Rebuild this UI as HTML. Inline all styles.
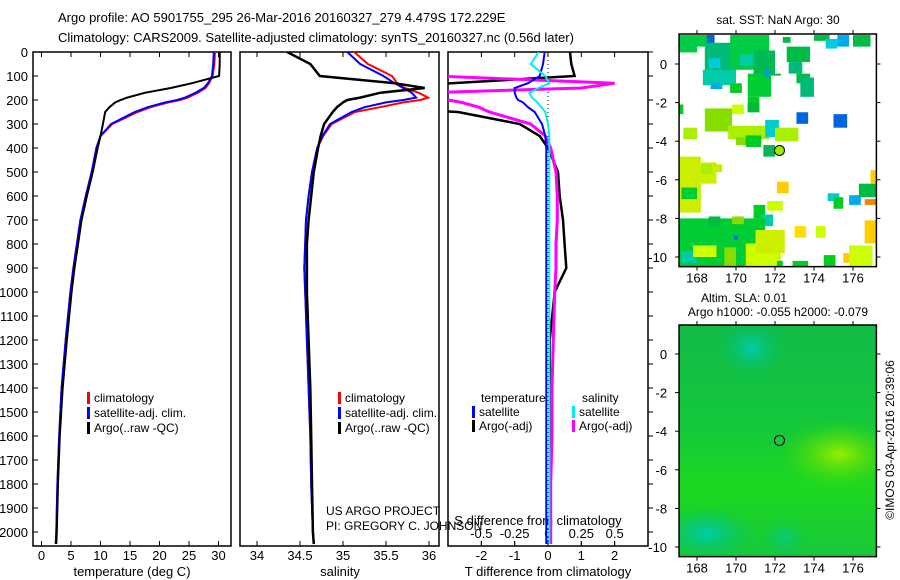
<!DOCTYPE html>
<html><head><meta charset="utf-8"><style>
body{margin:0;background:#fff;}
svg{display:block;font-family:"Liberation Sans",sans-serif;}
text{fill:#000;}
</style></head><body>
<svg id="c" width="900" height="580" viewBox="0 0 900 580">
<text x="58" y="22" font-size="13">Argo profile: AO 5901755_295 26-Mar-2016 20160327_279 4.479S 172.229E</text>
<text x="58" y="42" font-size="13">Climatology: CARS2009. Satellite-adjusted climatology: synTS_20160327.nc (0.56d later)</text>
<g id="g"></g>
</svg>
<script>
// ---- profile data (depth dbar) ----
const depths = [0,50,100,130,150,170,190,200,210,230,250,300,350,400,500,600,700,800,900,1000,1200,1400,1600,1800,2000,2050];
const tempArgo = [30.2,30.2,30.1,25.5,21.9,17.5,14.5,13.4,12.5,11.5,10.8,10.4,10.0,9.5,8.7,7.7,6.8,6.2,5.6,5.1,4.3,3.6,3.1,2.8,2.6,2.5];
const tempClim = [29.4,29.3,29.0,28.4,27.8,26.5,24.8,23.5,21.5,18.5,16.3,12.0,10.0,9.3,8.5,7.5,6.6,6.0,5.4,4.9,4.1,3.4,3.0,2.7,2.5,2.4];
const tempSat  = [29.2,29.1,28.9,28.2,27.5,26.1,24.3,23.0,21.0,18.0,15.8,11.8,10.0,9.3,8.5,7.5,6.6,6.0,5.4,4.9,4.1,3.4,3.0,2.7,2.5,2.4];
const salArgo = [34.35,34.62,34.73,35.6,35.95,35.43,35.2,35.05,35.0,34.93,34.88,34.78,34.74,34.71,34.66,34.63,34.6,34.58,34.58,34.58,34.6,34.62,34.63,34.64,34.65,34.66];
const salClim = [35.13,35.29,35.57,35.63,35.72,35.88,35.99,35.9,35.7,35.43,35.14,34.87,34.77,34.70,34.64,34.6,34.57,34.56,34.55,34.56,34.58,34.6,34.62,34.63,34.65,34.66];
const salSat  = [35.05,35.2,35.47,35.6,35.7,35.8,35.85,35.7,35.5,35.25,35.1,34.85,34.76,34.70,34.64,34.6,34.57,34.56,34.55,34.56,34.58,34.6,34.62,34.63,34.65,34.66];
const dTArgo = [0.66,0.7,0.8,-2.9,-5,-7,-8,-9,-9,-6,-2.7,-0.85,-0.25,0.0,0.3,0.35,0.45,0.5,0.55,0.2,0.05,0.05,0.05,0.05,0.05,0.05];
const dTSat  = [-0.1,-0.15,-0.25,-0.6,-1.0,-1.0,-0.95,-0.9,-0.75,-0.6,-0.4,-0.18,-0.08,-0.05,-0.05,-0.05,-0.05,-0.05,-0.05,-0.05,-0.05,-0.05,-0.05,-0.05,-0.05,-0.05];
const dSArgo = [-1.2,-1.2,-0.85,0.5,0.25,-0.9,-0.9,-0.75,-0.65,-0.52,-0.44,-0.13,-0.02,0.02,0.06,0.07,0.07,0.06,0.06,0.05,0.04,0.03,0.03,0.02,0.02,0.02];
const dSSat  = [-0.07,-0.13,-0.02,0.01,-0.07,-0.14,-0.12,-0.1,-0.08,-0.05,-0.02,0.0,0.01,0.01,0.01,0.01,0.01,0.01,0.01,0.01,0.01,0.01,0.01,0.01,0.01,0.01];
const depthTicks = [0,100,200,300,400,500,600,700,800,900,1000,1100,1200,1300,1400,1500,1600,1700,1800,1900,2000];
const tempTicks = [0,5,10,15,20,25,30];
const salTicks = [34,34.5,35,35.5,36];
const dTTicks = [-2,-1,0,1,2];
const dSTicks = [-0.5,-0.25,0,0.25,0.5];
const lonTicks = [168,170,172,174,176];
const latTicks = [0,-2,-4,-6,-8,-10];
// SST patches: [lon0, lat0(top), lon1, lat1(bottom), color]
const sstPatches = [
[167.1,1.5,168.0,0.6,'#00cc44'],[168.0,1.5,168.9,0.9,'#00cc44'],[168.5,1.5,168.9,1.1,'#0066dd'],[168.4,1.1,170.0,-1.0,'#00bb77'],
[168.6,0.3,169.2,-0.2,'#00ccdd'],[168.3,-0.3,170.0,-1.1,'#00ccaa'],[168.7,-1.0,169.3,-1.3,'#00aaee'],[169.7,1.5,171.7,-0.3,'#00cc44'],
[170.2,0.5,171.0,-0.1,'#00ccaa'],[170.9,0.7,172.0,-0.6,'#00bb55'],[170.6,-0.5,171.8,-1.7,'#00cc33'],[171.3,-0.5,172.3,-0.6,'#00bb44'],
[171.5,-0.3,171.7,-0.7,'#0099ee'],[169.7,-1.0,170.3,-1.5,'#00cc22'],[170.6,-1.7,171.2,-2.5,'#00cc22'],[170.6,-2.0,171.2,-2.5,'#00bb33'],
[172.4,1.4,172.8,1.1,'#00bb44'],[172.6,0.9,173.8,0.1,'#00bb44'],[172.7,0.1,173.4,-0.5,'#00bb77'],[173.1,-0.5,173.8,-1.0,'#00bb44'],
[173.3,-0.7,174.0,-1.7,'#00bb77'],[174.0,1.5,174.8,1.2,'#00bb44'],[174.6,1.3,175.2,0.8,'#00ccdd'],[175.2,1.5,175.8,0.9,'#00aaee'],[176.0,1.5,176.9,0.9,'#00bb44'],
[167.1,-2.1,167.3,-2.6,'#00cc22'],[168.4,-2.3,169.8,-3.5,'#88dd00'],[169.8,-2.1,170.4,-2.6,'#ccff00'],[169.6,-3.2,171.7,-3.9,'#aaee00'],
[167.3,-3.3,168.0,-3.9,'#aaee00'],[170.0,-3.8,170.6,-4.2,'#88dd00'],[170.5,-3.7,171.3,-4.3,'#00cc22'],[171.5,-2.9,172.2,-3.8,'#00cccc'],
[172.0,-3.3,173.2,-4.0,'#aaee00'],[173.1,-2.5,173.7,-3.1,'#0066dd'],[175.0,-2.6,175.7,-3.3,'#0066dd'],[171.4,-4.2,172.0,-4.8,'#00bb55'],
[167.1,-4.8,168.2,-7.7,'#ccee00'],[168.2,-5.1,169.0,-6.2,'#ccee00'],[168.2,-5.2,168.8,-5.7,'#aaee00'],[168.8,-5.2,169.3,-5.6,'#ccee00'],
[167.2,-6.4,168.0,-7.0,'#00cc33'],[172.1,-6.1,172.7,-6.7,'#ffcc00'],[171.6,-7.1,172.4,-7.6,'#ccff00'],[170.9,-7.3,171.5,-8.0,'#00cc22'],
[171.3,-7.8,171.9,-8.4,'#00ccaa'],[173.0,-8.4,173.6,-9.0,'#ffdd00'],[174.1,-8.4,174.6,-9.0,'#ccff00'],[174.7,-6.7,175.3,-7.1,'#00cccc'],
[175.0,-6.9,175.5,-7.5,'#00cc22'],[175.8,-6.8,176.4,-7.3,'#00aaee'],[176.3,-6.2,177.2,-6.9,'#00bb44'],[176.9,-5.5,177.2,-6.2,'#ffcc00'],
[176.6,-7.0,177.2,-7.3,'#ee8800'],[176.6,-8.1,177.2,-9.3,'#ffcc00'],[167.1,-8.0,171.5,-10.5,'#00cc33'],[168.6,-7.9,169.2,-8.4,'#00bb44'],
[169.8,-7.9,170.4,-8.3,'#88dd00'],[170.5,-9.3,172.3,-10.5,'#ccff00'],[171.0,-8.6,172.5,-9.8,'#ccee00'],[167.2,-9.7,168.0,-10.3,'#00ccaa'],
[167.8,-9.4,169.0,-10.0,'#ccff00'],[169.4,-9.5,170.0,-10.5,'#88dd00'],[172.1,-10.2,172.4,-10.5,'#00cc22'],[172.9,-10.2,173.7,-10.5,'#00cc22'],
[174.5,-9.9,175.1,-10.5,'#00cc22'],[175.5,-9.8,176.0,-10.3,'#ffcc00'],[175.8,-9.4,177.0,-10.5,'#ccff00'],[169.9,-8.9,170.1,-9.1,'#0066dd']
];
const argoLon = 172.229, argoLat = -4.479;

const NS='http://www.w3.org/2000/svg';
const G=document.getElementById('g');
function el(t,a,p){const e=document.createElementNS(NS,t);for(const k in a)e.setAttribute(k,a[k]);(p||G).appendChild(e);return e;}
const Y0=52, PX=0.24; // px per dbar
const yD=d=>Y0+d*PX;
const panels=[
 {x0:33,x1:231,fx:v=>41.5+v*5.9,name:'temperature-panel'},
 {x0:240,x1:439,fx:v=>257+(v-34)*86,name:'salinity-panel'},
 {x0:448,x1:648,fx:v=>548+v*33.3,name:'difference-panel'}
];
const fS=v=>548+v*133.3;
const YB=546;
function line(xs,fx,col,w,name,clipId){
 const pts=depths.map((d,i)=>fx(xs[i]).toFixed(1)+','+yD(d).toFixed(1)).join(' ');
 const p=el('polyline',{points:pts,fill:'none',stroke:col,'stroke-width':w,'clip-path':'url(#'+clipId+')'});
 
 
}
const defs=el('defs',{});
panels.forEach((p,i)=>{
 const cp=el('clipPath',{id:'cp'+i},defs);el('rect',{x:p.x0,y:Y0,width:p.x1-p.x0,height:YB-Y0},cp);
 const r=el('rect',{x:p.x0,y:Y0,width:p.x1-p.x0,height:YB-Y0,fill:'none',stroke:'#000','stroke-width':1.5});
 
 
});
depthTicks.forEach(d=>{
 const t=el('text',{x:28,y:yD(d)+5,'font-size':13,'text-anchor':'end'});t.textContent=d;
 
 
 el('line',{x1:33,x2:38,y1:yD(d),y2:yD(d),stroke:'#000'});
 el('line',{x1:648,x2:653,y1:yD(d),y2:yD(d),stroke:'#000'});
});
function xticks(ticks,fx,y,lab,top){
 ticks.forEach(v=>{
  const x=fx(v);
  el('line',{x1:x,x2:x,y1:YB,y2:YB-5,stroke:'#000'});
  if(top)el('line',{x1:x,x2:x,y1:Y0,y2:Y0+5,stroke:'#000'});
  const t=el('text',{x:x,y:y,'font-size':13,'text-anchor':'middle'});t.textContent=lab?lab(v):v;
  
  
 });
}
xticks(tempTicks,panels[0].fx,560,null,true);
xticks(salTicks,panels[1].fx,560,null,true);
xticks(dTTicks,panels[2].fx,560,null,true);
xticks(dSTicks,fS,538,null,false);
[['temperature (deg C)',132,'x-axis-title-temperature'],['salinity',340,'x-axis-title-salinity'],['T difference from climatology',548,'x-axis-title-t-diff']].forEach(a=>{
 const t=el('text',{x:a[1],y:576,'font-size':13,'text-anchor':'middle'});t.textContent=a[0];
 
 
});
let t=el('text',{x:538,y:525,'font-size':13,'text-anchor':'middle'});t.textContent='S difference from climatology';


t=el('text',{x:326,y:515,'font-size':12});t.textContent='US ARGO PROJECT';


t=el('text',{x:326,y:530,'font-size':12});t.textContent='PI: GREGORY C. JOHNSON';


el('line',{x1:548,x2:548,y1:Y0,y2:YB,stroke:'#000','stroke-dasharray':'1,3'});
line(tempClim,panels[0].fx,'#f00',2,'temp-climatology-line','cp0');
line(tempSat,panels[0].fx,'#00f',2,'temp-satellite-line','cp0');
line(tempArgo,panels[0].fx,'#000',2,'temp-argo-line','cp0');
line(salClim,panels[1].fx,'#f00',2,'sal-climatology-line','cp1');
line(salSat,panels[1].fx,'#00f',2,'sal-satellite-line','cp1');
line(salArgo,panels[1].fx,'#000',2.5,'sal-argo-line','cp1');
line(dTArgo,panels[2].fx,'#000',2.5,'tdiff-argo-line','cp2');
line(dSArgo,fS,'#f0f',3,'sdiff-argo-line','cp2');
line(dTSat,panels[2].fx,'#00f',2,'tdiff-satellite-line','cp2');
line(dSSat,fS,'#0ee',2,'sdiff-satellite-line','cp2');
function leg(x,y,col,txt,name){
 el('rect',{x:x,y:y-10,width:3,height:12,fill:col});
 const t=el('text',{x:x+7,y:y,'font-size':12});t.textContent=txt;
 
 
}
leg(87,402,'#f00','climatology','legend-climatology');
leg(87,417,'#00f','satellite-adj. clim.','legend-satellite');
leg(87,432,'#000','Argo(..raw -QC)','legend-argo');
leg(338,402,'#f00','climatology','legend-climatology-2');
leg(338,417,'#00f','satellite-adj. clim.','legend-satellite-2');
leg(338,432,'#000','Argo(..raw -QC)','legend-argo-2');
t=el('text',{x:481,y:402,'font-size':12});t.textContent='temperature';


t=el('text',{x:582,y:402,'font-size':12});t.textContent='salinity';


leg(472,416,'#00f','satellite','legend-t-satellite');
leg(472,430,'#000','Argo(-adj)','legend-t-argo');
leg(572,416,'#0ee','satellite','legend-s-satellite');
leg(572,430,'#f0f','Argo(-adj)','legend-s-argo');
// ---- maps ----
const LON0=167.08,LON1=177.2,PXD=19.5;
function map(top,lat0y,name){
 const lx=v=>697+(v-168)*PXD, ly=v=>lat0y-v*19.3;
 const x0=lx(LON0),x1=lx(LON1),y0=top,y1=ly(-10.5);
 const cid='mc'+top;
 const cp=el('clipPath',{id:cid},defs);el('rect',{x:x0,y:y0,width:x1-x0,height:y1-y0},cp);
 const g=el('g',{'clip-path':'url(#'+cid+')'});
 
 
 return {lx,ly,x0,x1,y0,y1,g};
}
function mapFrame(m,name){
 lonTicks.forEach(v=>{
  el('line',{x1:m.lx(v),x2:m.lx(v),y1:m.y1,y2:m.y1+4,stroke:'#000'});
  el('line',{x1:m.lx(v),x2:m.lx(v),y1:m.y0,y2:m.y0-4,stroke:'#000'});
  const t=el('text',{x:m.lx(v),y:m.y1+16,'font-size':13,'text-anchor':'middle'});t.textContent=v;
  
  
 });
 latTicks.forEach(v=>{
  el('line',{x1:m.x0,x2:m.x0-4,y1:m.ly(v),y2:m.ly(v),stroke:'#000'});
  el('line',{x1:m.x1,x2:m.x1+4,y1:m.ly(v),y2:m.ly(v),stroke:'#000'});
  const t=el('text',{x:m.x0-12,y:m.ly(v)+5,'font-size':13,'text-anchor':'end'});t.textContent=v;
  
  
 });
 const r=el('rect',{x:m.x0,y:m.y0,width:m.x1-m.x0,height:m.y1-m.y0,fill:'none',stroke:'#000','stroke-width':1.5});
 
 
}
const m1=map(34,64,'sst-map');
el('rect',{x:m1.x0,y:m1.y0,width:m1.x1-m1.x0,height:m1.y1-m1.y0,fill:'#fff'},m1.g);
sstPatches.forEach(p=>{
 const r=el('rect',{x:m1.lx(p[0]),y:m1.ly(p[1]),width:(p[2]-p[0])*PXD,height:(p[1]-p[3])*19.3,fill:p[4]},m1.g);
 
 
});
el('circle',{cx:m1.lx(argoLon),cy:m1.ly(argoLat),r:5,fill:'#99ee00',stroke:'#000'});
mapFrame(m1,'sst-map-frame');
t=el('text',{x:778,y:24,'font-size':12,'text-anchor':'middle'});t.textContent='sat. SST: NaN Argo: 30';



const m2=map(325,354,'sla-map');
const lg=el('linearGradient',{id:'lg',x1:'0',y1:'0',x2:'0',y2:'1'},defs);
el('stop',{offset:'0','stop-color':'#12bb48'},lg);el('stop',{offset:'0.45','stop-color':'#14c83a'},lg);
el('stop',{offset:'0.7','stop-color':'#1ed820'},lg);el('stop',{offset:'1','stop-color':'#18c83a'},lg);
const gr=el('radialGradient',{id:'g1',cx:'0.5',cy:'0.5',r:'0.5'},defs);
el('stop',{offset:'0','stop-color':'#99ee00'},gr);el('stop',{offset:'1','stop-color':'#44dd00','stop-opacity':'0'},gr);
const gr2=el('radialGradient',{id:'g2',cx:'0.5',cy:'0.5',r:'0.5'},defs);
el('stop',{offset:'0','stop-color':'#00ccaa'},gr2);el('stop',{offset:'1','stop-color':'#00c066','stop-opacity':'0'},gr2);
el('rect',{x:m2.x0,y:m2.y0,width:m2.x1-m2.x0,height:m2.y1-m2.y0,fill:'url(#lg)'},m2.g);
el('ellipse',{cx:m2.lx(175.3),cy:m2.ly(-5.2),rx:60,ry:35,fill:'url(#g1)'},m2.g);
el('ellipse',{cx:m2.lx(168.5),cy:m2.ly(-9.3),rx:50,ry:28,fill:'url(#g2)'},m2.g);
el('ellipse',{cx:m2.lx(170.8),cy:m2.ly(0.3),rx:35,ry:28,fill:'url(#g2)'},m2.g);
el('ellipse',{cx:m2.lx(172.5),cy:m2.ly(-9.5),rx:25,ry:20,fill:'url(#g2)',opacity:0.6},m2.g);
el('circle',{cx:m2.lx(argoLon),cy:m2.ly(argoLat),r:5,fill:'none',stroke:'#000'});
mapFrame(m2,'sla-map-frame');
t=el('text',{x:744,y:302,'font-size':12,'text-anchor':'middle'});t.textContent='Altim. SLA: 0.01';


t=el('text',{x:778,y:316,'font-size':12,'text-anchor':'middle'});t.textContent='Argo h1000: -0.055 h2000: -0.079';


t=el('text',{x:0,y:0,'font-size':12,'text-anchor':'middle',transform:'translate(894,440) rotate(-90)'});t.textContent='©IMOS 03-Apr-2016 20:39:06';


</script>
</body></html>
